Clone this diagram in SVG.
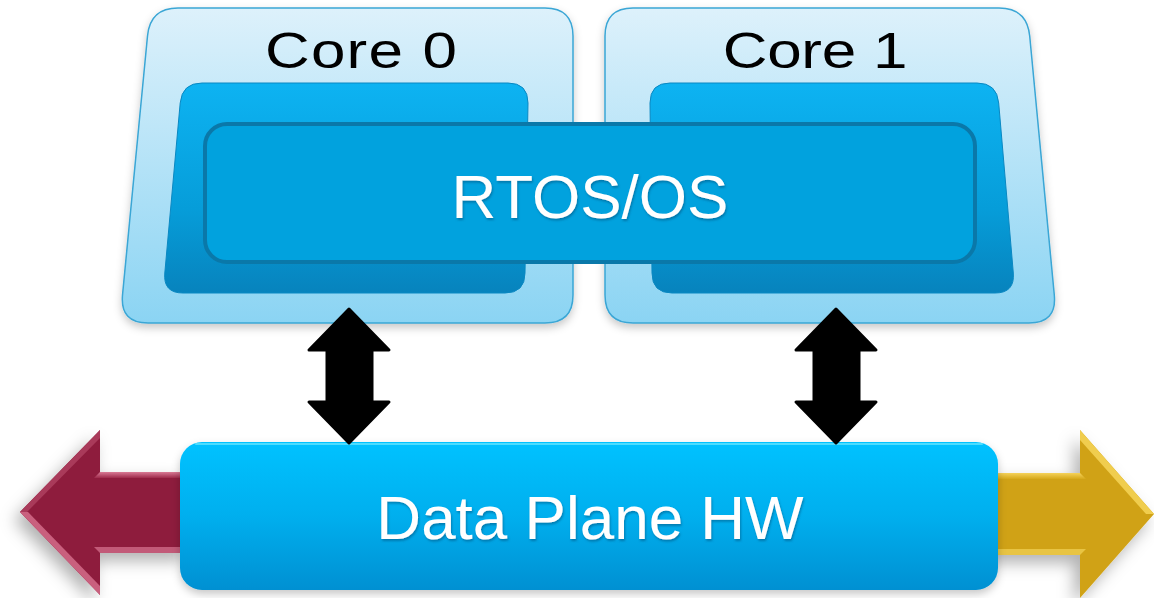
<svg xmlns="http://www.w3.org/2000/svg" width="1154" height="598" viewBox="0 0 1154 598">
  <defs>
    <linearGradient id="coreBg" x1="0" y1="0" x2="0" y2="1">
      <stop offset="0" stop-color="#DDF1FB"/>
      <stop offset="1" stop-color="#8BD4F3"/>
    </linearGradient>
    <linearGradient id="panel" x1="0" y1="0" x2="0" y2="1">
      <stop offset="0" stop-color="#0DB3F2"/>
      <stop offset="0.6" stop-color="#069DD9"/>
      <stop offset="1" stop-color="#0783BD"/>
    </linearGradient>
    <linearGradient id="plane" x1="0" y1="0" x2="0" y2="1">
      <stop offset="0" stop-color="#05C2FF"/>
      <stop offset="0.5" stop-color="#03AFEE"/>
      <stop offset="1" stop-color="#0590D2"/>
    </linearGradient>
    <linearGradient id="maroonBevel" x1="0" y1="0" x2="0" y2="1">
      <stop offset="0" stop-color="#D97A95"/>
      <stop offset="1" stop-color="#9E2A4B"/>
    </linearGradient>
    <linearGradient id="goldBevel" x1="0" y1="0" x2="0" y2="1">
      <stop offset="0" stop-color="#F5D25A"/>
      <stop offset="1" stop-color="#D6A81A"/>
    </linearGradient>
    <filter id="softShadow" x="-20%" y="-20%" width="140%" height="150%">
      <feDropShadow dx="0" dy="4" stdDeviation="4" flood-color="#000" flood-opacity="0.22"/>
    </filter>
    <filter id="arrowShadow" x="-30%" y="-30%" width="160%" height="170%">
      <feDropShadow dx="-6" dy="8" stdDeviation="8" flood-color="#000" flood-opacity="0.3"/>
    </filter>
    <filter id="textShadow" x="-10%" y="-20%" width="120%" height="150%">
      <feDropShadow dx="1" dy="2" stdDeviation="1.2" flood-color="#05507A" flood-opacity="0.5"/>
    </filter>
    <style>
      .core { fill: url(#coreBg); stroke: #3AA6D5; stroke-width: 1.5; filter: url(#softShadow); }
      .panel { fill: url(#panel); stroke: #0A88C2; stroke-width: 1; }
      .coreLabel { font-family: "Liberation Sans", Arial, sans-serif; font-size: 50px; fill: #000; text-anchor: middle; }
      .bigLabel { font-family: "Liberation Sans", Arial, sans-serif; font-size: 62px; fill: #FFFFFF; text-anchor: middle; filter: url(#textShadow); }
      .dbl { fill: #000; stroke: #000; stroke-width: 3; stroke-linejoin: round; }
    </style>
  </defs>

  <rect width="1154" height="598" fill="#FFFFFF"/>

  <!-- Core 0 -->
  <g id="core0">
    <path class="core" d="M 178 8 H 545 Q 573 8 573 36 V 295 Q 573 323 545 323 H 148 Q 120 323 122.5 295 L 147.5 36 Q 150 8 178 8 Z"/>
    <path class="panel" d="M 202 83 H 508 Q 528 83 528 103 L 525 273 Q 525 293 505 293 H 183 Q 163 293 164.8 273 L 180.2 103 Q 182 83 202 83 Z"/>
    <text class="coreLabel" transform="translate(361 68) scale(1.24 1)" x="0" y="0" textLength="155" lengthAdjust="spacing">Core 0</text>
  </g>

  <!-- Core 1 -->
  <g id="core1">
    <path class="core" d="M 633 8 H 999 Q 1027 8 1029.7 36 L 1054.3 295 Q 1057 323 1029 323 H 633 Q 605 323 605 295 V 36 Q 605 8 633 8 Z"/>
    <path class="panel" d="M 670 83 H 977 Q 997 83 998.7 103 L 1013.3 273 Q 1015 293 995 293 H 672 Q 652 293 652 273 L 650 103 Q 650 83 670 83 Z"/>
    <text class="coreLabel" transform="translate(815 68) scale(1.24 1)" x="0" y="0" textLength="149" lengthAdjust="spacing">Core 1</text>
  </g>

  <!-- Shared OS layer spanning both cores -->
  <g id="rtos">
    <rect x="205" y="124" width="770" height="138" rx="22" fill="#01A2DE" stroke="#0A78A9" stroke-width="4"/>
    <text class="bigLabel" x="590" y="218">RTOS/OS</text>
  </g>

  <!-- Ingress / egress arrows -->
  <g id="ingress">
    <path d="M 20 512 L 100 430 V 472 H 190 V 553 H 100 V 595 Z" fill="#8E1C3D" filter="url(#arrowShadow)"/>
    <path d="M 100 472 H 190 V 478 H 94 Z" fill="url(#maroonBevel)"/>
    <path d="M 94 547 H 190 V 553 H 100 Z" fill="#C25A78"/>
    <path d="M 20 512 L 28 512 L 100 586 V 595 Z" fill="#C9607E"/>
    <path d="M 20 512 L 100 430 V 438 L 27 512 Z" fill="#A93A5A"/>
  </g>

  <g id="egress">
    <path d="M 990 473 H 1080 V 430 L 1154 514 L 1080 598 V 555 H 990 Z" fill="#D0A215" filter="url(#arrowShadow)"/>
    <path d="M 990 473 H 1080 L 1086 479 H 990 Z" fill="url(#goldBevel)"/>
    <path d="M 990 549 H 1086 L 1080 555 H 990 Z" fill="#E8C443"/>
    <path d="M 1080 430 L 1154 514 L 1146 514 L 1080 440 Z" fill="#F0CD4E"/>
  </g>

  <!-- Data plane -->
  <g id="dataPlane">
    <rect x="180" y="442" width="818" height="148" rx="22" fill="url(#plane)" filter="url(#softShadow)"/>
    <path d="M 196 444 H 982" stroke="#5FE3FF" stroke-width="2" stroke-linecap="round" opacity="0.8"/>
    <text class="bigLabel" x="590" y="539">Data Plane HW</text>
  </g>

  <!-- Connectors between cores and the data plane -->
  <g id="connectors">
    <path class="dbl" d="M 349 309 L 389 350 H 372 V 402 H 389 L 349 443 L 309 402 H 327 V 350 H 309 Z"/>
    <path class="dbl" d="M 836 309 L 876 350 H 859 V 402 H 876 L 836 443 L 796 402 H 814 V 350 H 796 Z"/>
  </g>
</svg>
